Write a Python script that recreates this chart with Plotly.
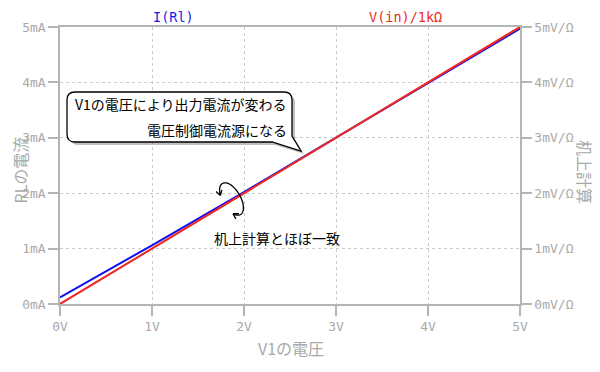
import numpy as np
import plotly.graph_objects as go

# ---- data ----
v_in = [0, 1, 2, 3, 4, 5]                       # V
i_rl = [0.12, 1.06, 2.02, 3.00, 3.98, 4.97]     # mA  I(Rl)
i_calc = [0, 1, 2, 3, 4, 5]                     # mV/Ω  V(in)/1kΩ
x_ticks = [0, 1, 2, 3, 4, 5]
x_ticktext = ["0V", "1V", "2V", "3V", "4V", "5V"]
y_ticks = [0, 1, 2, 3, 4, 5]
y_ticktext = ["0mA", "1mA", "2mA", "3mA", "4mA", "5mA"]
y2_ticktext = ["0mV/Ω", "1mV/Ω", "2mV/Ω", "3mV/Ω", "4mV/Ω", "5mV/Ω"]

OFF = 8  # page body margin
W, H = 600 - OFF, 372 - OFF
# plot area in screen pixels
SL, SR, ST, SB = 60, 520, 27, 304
ML, MT = SL - OFF, ST - OFF
MR, MB = W - (SR - OFF), H - (SB - OFF)
PW, PH = SR - SL, SB - ST

def px2x(px):
    return (px - SL) / PW * 5.0

def py2y(py):
    return (SB - py) / PH * 5.0

def ppx(px):
    return (px - SL) / PW

def ppy(py):
    return (SB - py) / PH

GRAY = "#a9a9a9"
AXC = "#b5b5b5"
MONO = "DejaVu Sans Mono"
JP = "Noto Sans CJK JP"

fig = go.Figure()
fig.add_trace(go.Scatter(x=v_in, y=i_calc, mode="lines", name="V(in)/1kΩ",
                         line=dict(color="#ee2a24", width=2), yaxis="y2"))
fig.add_trace(go.Scatter(x=v_in, y=i_rl, mode="lines", name="I(Rl)",
                         line=dict(color="#1010ee", width=2)))
fig.add_trace(go.Scatter(x=v_in, y=i_calc, mode="lines", showlegend=False,
                         line=dict(color="#ee2a24", width=1.2), yaxis="y2"))

# ---- callout box ----
def rounded_box(l, t, r, b, rad, tail):
    def P(x, y):
        return f"{px2x(x):.5f},{py2y(y):.5f}"
    tx1, tipx, tipy, ty2 = tail
    return (f"M {P(l+rad, t)} L {P(r-rad, t)} Q {P(r, t)} {P(r, t+rad)} "
            f"L {P(r, ty2)} L {P(tipx, tipy)} L {P(tx1, b)} "
            f"L {P(l+rad, b)} Q {P(l, b)} {P(l, b-rad)} L {P(l, t+rad)} Q {P(l, t)} {P(l+rad, t)} Z")

box = (67, 92, 292, 142, 8, (272, 301, 151, 136))
shadow_path = rounded_box(box[0]+3, box[1]+3, box[2]+3, box[3]+3, box[4],
                          (box[5][0]+3, box[5][1]+3, box[5][2]+3, box[5][3]+3))
fig.add_shape(type="path", path=shadow_path, xref="x", yref="y",
              fillcolor="rgba(0,0,0,0.25)", line=dict(width=0), layer="above")
fig.add_shape(type="path", path=rounded_box(*box), xref="x", yref="y",
              fillcolor="white", line=dict(color="black", width=1.3), layer="above")

# ---- rotation arrow ellipse ----
cx, cy, a, b = 231.5, 199, 18, 9
th = np.deg2rad(60)
u = np.array([np.cos(th), np.sin(th)])
v = np.array([-np.sin(th), np.cos(th)])
def ell(t):
    return np.array([cx, cy]) + a*np.cos(t)*u + b*np.sin(t)*v
ts = np.linspace(np.deg2rad(118), np.deg2rad(360+42), 80)
pts = [ell(t) for t in ts]
arc = "M " + " L ".join(f"{px2x(p[0]):.5f},{py2y(p[1]):.5f}" for p in pts)
def head(t, sgn):
    tip = ell(t)
    tan = (ell(t + 0.01*sgn) - ell(t)); tan = tan/np.linalg.norm(tan)
    s = ""
    for ang in (np.deg2rad(150), np.deg2rad(-150)):
        rot = np.array([[np.cos(ang), -np.sin(ang)], [np.sin(ang), np.cos(ang)]])
        q = tip + 6*rot.dot(tan)
        s += f" M {px2x(tip[0]):.5f},{py2y(tip[1]):.5f} L {px2x(q[0]):.5f},{py2y(q[1]):.5f}"
    return s
arc += head(ts[0], -1) + head(ts[-1], 1)
fig.add_shape(type="path", path=arc, xref="x", yref="y",
              line=dict(color="black", width=1.3), layer="above")

def A(px, py, text, font, xanchor="center", angle=0):
    return dict(x=ppx(px), y=ppy(py), xref="paper", yref="paper", text=text,
                showarrow=False, xanchor=xanchor, yanchor="middle", textangle=angle,
                borderpad=0, font=font)

ann = [
    A(288, 104, "V1の電圧により出力電流が変わる", dict(family=JP, size=14, color="black"), "right"),
    A(288, 130, "電圧制御電流源になる", dict(family=JP, size=14, color="black"), "right"),
    A(213, 238, "机上計算とほぼ一致", dict(family=JP, size=14, color="black"), "left"),
    A(173, 17, "I(Rl)", dict(family=MONO, size=13.5, color="#1a1aee")),
    A(405, 17, "V(in)/1kΩ", dict(family=MONO, size=13.5, color="#ee2a24")),
    A(291, 348, "V1の電圧", dict(family=JP, size=16, color=GRAY)),
    A(19.5, 170, "RLの電流", dict(family=JP, size=16, color=GRAY), angle=-90),
    A(585, 172, "机上計算", dict(family=JP, size=16, color=GRAY), angle=90),
]

axis_common = dict(zeroline=False, showline=True, linecolor=AXC, linewidth=1.5,
                   ticks="outside", ticklen=10, tickcolor=AXC, tickwidth=1.5,
                   tickfont=dict(family=MONO, size=13, color=GRAY))
grid = dict(showgrid=True, gridcolor="#cccccc", griddash="3px,3px", gridwidth=1)

fig.update_layout(
    width=W, height=H, margin=dict(l=ML, r=MR, t=MT, b=MB),
    paper_bgcolor="white", plot_bgcolor="white", showlegend=False,
    annotations=ann,
    xaxis=dict(range=[0, 5], tickvals=x_ticks, ticktext=x_ticktext, mirror=True,
               **grid, **axis_common),
    yaxis=dict(range=[0, 5], tickvals=y_ticks, ticktext=y_ticktext,
               **grid, **axis_common),
    yaxis2=dict(range=[0, 5], tickvals=y_ticks, ticktext=y2_ticktext, overlaying="y",
                side="right", showgrid=False, **axis_common),
)

fig.write_html("out.html")
